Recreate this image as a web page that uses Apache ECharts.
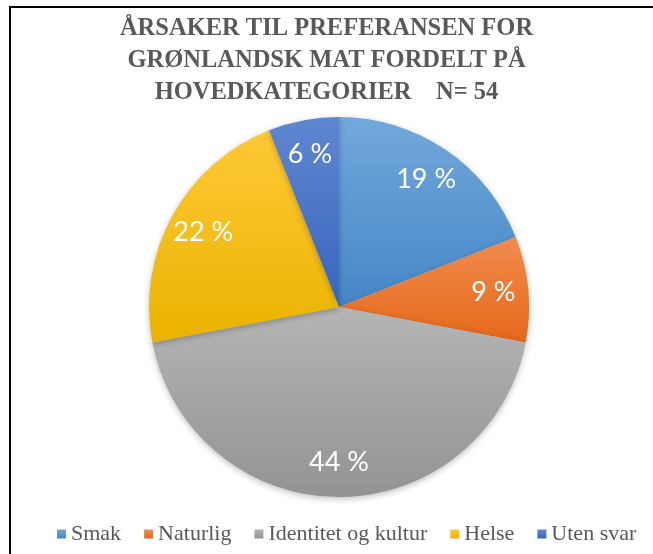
<!DOCTYPE html>
<html>
<head>
<meta charset="utf-8">
<script src="https://cdn.jsdelivr.net/npm/echarts@6/dist/echarts.min.js"></script>
<style>
  html, body { margin: 0; padding: 0; background: #fff; }
  #main { width: 653px; height: 554px; }
</style>
</head>
<body>
<div id="main"></div>
<script>
// kategorier og andeler (%)
const categories = ['Smak', 'Naturlig', 'Identitet og kultur', 'Helse', 'Uten svar'];
const values = [19, 9, 44, 22, 6];
// farger: topp (lys) og bunn (mørk) for hver sektor
const topColors = ['#72A8DC', '#F18C4E', '#B5B5B5', '#FFC937', '#5F87D1'];
const bottomColors = ['#4686C7', '#E5681A', '#939393', '#EAB300', '#3964BE'];

const chart = echarts.init(document.getElementById('main'));

function grad(i) {
  return new echarts.graphic.LinearGradient(0, 0, 0, 1, [
    { offset: 0, color: topColors[i] },
    { offset: 1, color: bottomColors[i] }
  ]);
}

const pieData = categories.map((name, i) => ({
  name: name,
  value: values[i],
  itemStyle: { color: grad(i) }
}));

// usynlig serie bare for å plassere etikettene lenger ut
const labelData = categories.map((name, i) => ({
  name: name,
  value: values[i],
  itemStyle: { color: 'rgba(0,0,0,0)' }
}));

const option = {
  animation: false,
  title: {
    text: 'ÅRSAKER TIL PREFERANSEN FOR\nGRØNLANDSK MAT FORDELT PÅ\nHOVEDKATEGORIER    N= 54',
    left: 'center',
    top: 8,
    textStyle: {
      fontFamily: 'Liberation Serif',
      fontWeight: 'bold',
      fontSize: 24.5,
      lineHeight: 32,
      color: '#595959'
    }
  },
  legend: {
    data: categories,
    left: 52,
    top: 518,
    icon: 'rect',
    itemWidth: 9,
    itemHeight: 9,
    itemGap: 23,
    textStyle: {
      fontFamily: 'Liberation Serif',
      fontSize: 22,
      color: '#595959'
    }
  },
  graphic: [{
    type: 'rect',
    silent: true,
    shape: { x: 10, y: 7, width: 700, height: 600 },
    style: { fill: 'none', stroke: '#000', lineWidth: 2 }
  }],
  series: [
    {
      type: 'pie',
      center: [339, 307],
      radius: [0, 190],
      startAngle: 90,
      clockwise: true,
      silent: true,
      data: pieData,
      itemStyle: {
        shadowBlur: 6,
        shadowColor: 'rgba(0,0,0,0.25)',
        shadowOffsetY: 2
      },
      label: { show: false },
      labelLine: { show: false }
    },
    {
      type: 'pie',
      center: [339, 307],
      radius: [0, 304],
      startAngle: 90,
      clockwise: true,
      silent: true,
      data: labelData,
      label: {
        show: true,
        position: 'inside',
        formatter: '{c} %',
        color: '#fff',
        fontFamily: 'Lato',
        fontSize: 27
      },
      labelLine: { show: false }
    }
  ]
};

chart.setOption(option);
</script>
</body>
</html>
